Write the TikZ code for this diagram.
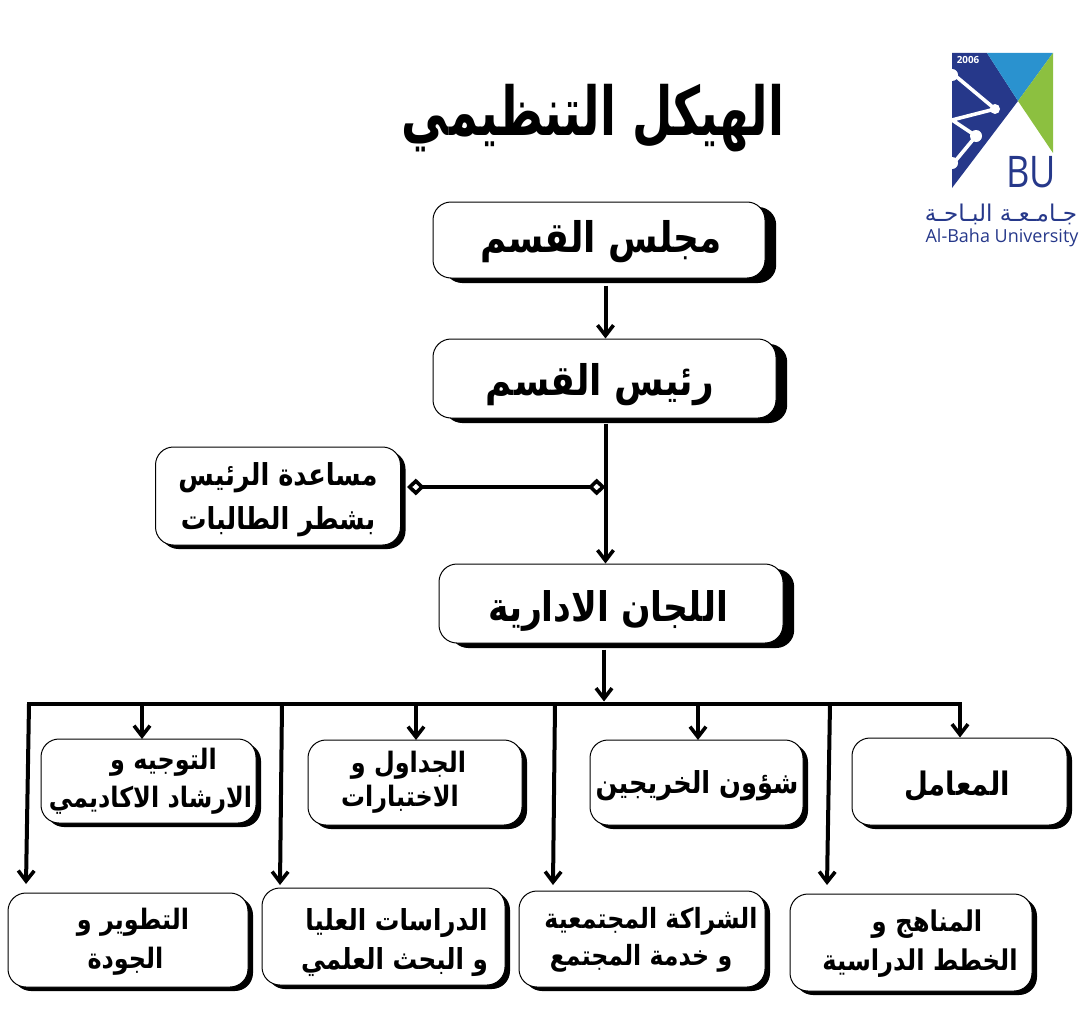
\documentclass[tikz,border=0pt]{standalone}
\usepackage{fontspec}
\usetikzlibrary{arrows.meta,shadows}
\setsansfont{Open Sans}
\TeXXeTstate=1
\newfontfamily\arabicfont[Script=Arabic,FakeStretch=0.85]{DejaVu Sans}
\newfontfamily\titlefont[Script=Arabic,FakeStretch=0.69]{DejaVu Sans}
\newfontfamily\logofont[Script=Arabic]{DejaVu Sans}
% one line of a box, moved by [#1] down and #2 sideways (in reference pixels)
\newcommand{\arline}[3][0]{\raisebox{\dimexpr -#1mm/4\relax}[\height][\depth]{\makebox[0pt]{\hspace*{\dimexpr #2mm/2\relax}{\arabicfont\bfseries #3}}}}
\newcommand{\sz}[1]{\fontsize{#1}{#1}\selectfont}
\definecolor{logoblue}{HTML}{26388A}
\definecolor{logosky}{HTML}{2A92CF}
\definecolor{logogreen}{HTML}{8CC040}
\tikzset{
  orgbase/.style 2 args={draw=black, line width=0.25mm, fill=white, rounded corners=4.5mm, align=center, inner sep=0pt,
    minimum width=#1*0.25mm, minimum height=#2*0.25mm},
  orgbox/.style 2 args={orgbase={#1}{#2},
    drop shadow={fill=black, opacity=1, shadow xshift=1.25mm, shadow yshift=-1mm}},
  topbox/.style 2 args={orgbase={#1}{#2},
    drop shadow={fill=black, opacity=1, shadow xshift=2.8mm, shadow yshift=-1.25mm}},
  link/.style={line width=1mm, -{Straight Barb[length=2.6mm, width=4mm, line width=0.9mm]}},
  dlink/.style={line width=1mm, {Diamond[open, fill=white, length=4.4mm, width=4.2mm, line width=0.9mm]}-{Diamond[open, fill=white, length=4.4mm, width=4.2mm, line width=0.9mm]}},
}
\begin{document}
\begin{tikzpicture}[x=0.25mm, y=-0.25mm, line join=round]
  \useasboundingbox (0,0) rectangle (1079,1011);
  \node (title) at (593,118) {\sz{48}\titlefont\bfseries\beginR الهيكل التنظيمي\endR};
  % logo
  \fill[logoblue] (952,53) -- (987,53) -- (1018,101) -- (952,188) -- cycle;
  \fill[logosky] (987,53) -- (1053,53) -- (1018,101) -- cycle;
  \fill[logogreen] (1053,53) -- (1053,153) -- (1018,101) -- cycle;
  \draw[white, line width=0.9mm] (952,73) -- (995,109) -- (952,120) -- (976,136) -- (952,165);
  \fill[white] (995,109) circle (5) (976,136) circle (6) (952,75) circle (6) (952,163) circle (6);
  \node[white, inner sep=0pt] (logoyear) at (968,60) {\sz{7}\sffamily\bfseries 2006};
  \node[logoblue, inner sep=0pt, xscale=0.83] (logobu) at (1031,172) {\sz{31}\sffamily BU};
  \node[logoblue, inner sep=0pt] (logoar) at (1001,214) {\sz{16.4}\logofont\beginR جـامـعـة البـاحـة\endR};
  \node[logoblue, inner sep=0pt] (logoen) at (1002,238) {\sz{12.8}\sffamily Al-Baha University};
  % boxes
  \node[topbox={332}{76}] (council) at (599,240) {\sz{30}\arline[1.5]{2}{\beginR مجلس القسم\endR}};
  \node[topbox={343}{79}] (head) at (604.5,378.5) {\sz{30}\arline[6.5]{-4.5}{\beginR رئيس القسم\endR}};
  \node[orgbox={245}{98}] (assist) at (278,496) {\sz{21.5}\arline[3.5]{0}{\beginR مساعدة الرئيس\endR}\\[9pt]\sz{21.5}\arline[3.5]{0}{\beginR بشطر الطالبات\endR}};
  \node[topbox={344}{79}] (committees) at (611,603.5) {\sz{29}\arline[7]{-3}{\beginR اللجان الادارية\endR}};
  \node[orgbox={215}{84}] (guidance) at (148.5,781) {\sz{20}\arline[.5]{15}{\beginR التوجيه و\endR}\\[6pt]\sz{20}\arline[.5]{2}{\beginR الارشاد الاكاديمي\endR}};
  \node[orgbox={214}{85}] (schedules) at (415,782.5) {\sz{20}\arline{-6.5}{\beginR الجداول و\endR}\\[3pt]\sz{20}\arline{-15}{\beginR الاختبارات\endR}};
  \node[orgbox={213}{85}] (alumni) at (696.5,782.5) {\sz{21.5}\arline[3]{.5}{\beginR شؤون الخريجين\endR}};
  \node[orgbox={215}{87}] (labs) at (959.5,781.5) {\sz{23}\arline[5]{-2.5}{\beginR المعامل\endR}};
  \node[orgbox={240}{94}] (quality) at (128,940) {\sz{20}\arline[1.5]{5}{\beginR التطوير و\endR}\\[7pt]\sz{20}\arline[1.5]{-2.5}{\beginR الجودة\endR}};
  \node[orgbox={243}{97}] (research) at (383.5,936.5) {\sz{20.6}\arline[6]{13}{\beginR الدراسات العليا\endR}\\[5.5pt]\sz{20.6}\arline[6]{11}{\beginR و البحث العلمي\endR}};
  \node[orgbox={246}{96}] (community) at (642,939) {\sz{19.8}\arline[.5]{9}{\beginR الشراكة المجتمعية\endR}\\[5.5pt]\sz{19.8}\arline[.5]{-1}{\beginR و خدمة المجتمع\endR}};
  \node[orgbox={242}{97}] (curricula) at (911,942.5) {\sz{20.3}\arline[1.5]{16}{\beginR المناهج و\endR}\\[6.5pt]\sz{20.3}\arline[1.5]{9}{\beginR الخطط الدراسية\endR}};
  % connectors
  \coordinate (spine) at (605.5,0);
  \coordinate (assistlink) at (407,487);
  \coordinate (busleft) at (29,704);
  \coordinate (busright) at (960,704);
  \coordinate (drop1) at (282,704);
  \coordinate (drop2) at (555,704);
  \coordinate (drop3) at (830,704);
  \coordinate (drop1end) at (280,885);
  \coordinate (drop2end) at (553,885);
  \coordinate (drop3end) at (827,885);
  \coordinate (drop0end) at (26,884);
  \draw[link] (spine |- council.south) ++(0,7) -- (spine |- head.north);
  \draw[link] (spine |- head.south) ++(0,5) -- (spine |- committees.north);
  \draw[dlink] (assistlink) -- (spine |- assistlink);
  \draw[link] (spine |- committees.south) ++(-1.5,6) -- ++(0,52);
  \draw[line width=1.1mm, line cap=rect] (busleft) -- (busright);
  \draw[link] (busleft) -- (drop0end);
  \draw[link] (drop1) -- (drop1end);
  \draw[link] (drop2) -- (drop2end);
  \draw[link] (drop3) -- (drop3end);
  \draw[link] (guidance.north |- busleft) ++(-6.5,0) -- ++(0,35);
  \draw[link] (schedules.north |- busleft) ++(1,0) -- ++(0,36);
  \draw[link] (alumni.north |- busleft) ++(1.5,0) -- ++(0,36);
  \draw[link] (busright) -- (busright |- labs.north);
\end{tikzpicture}
\end{document}
